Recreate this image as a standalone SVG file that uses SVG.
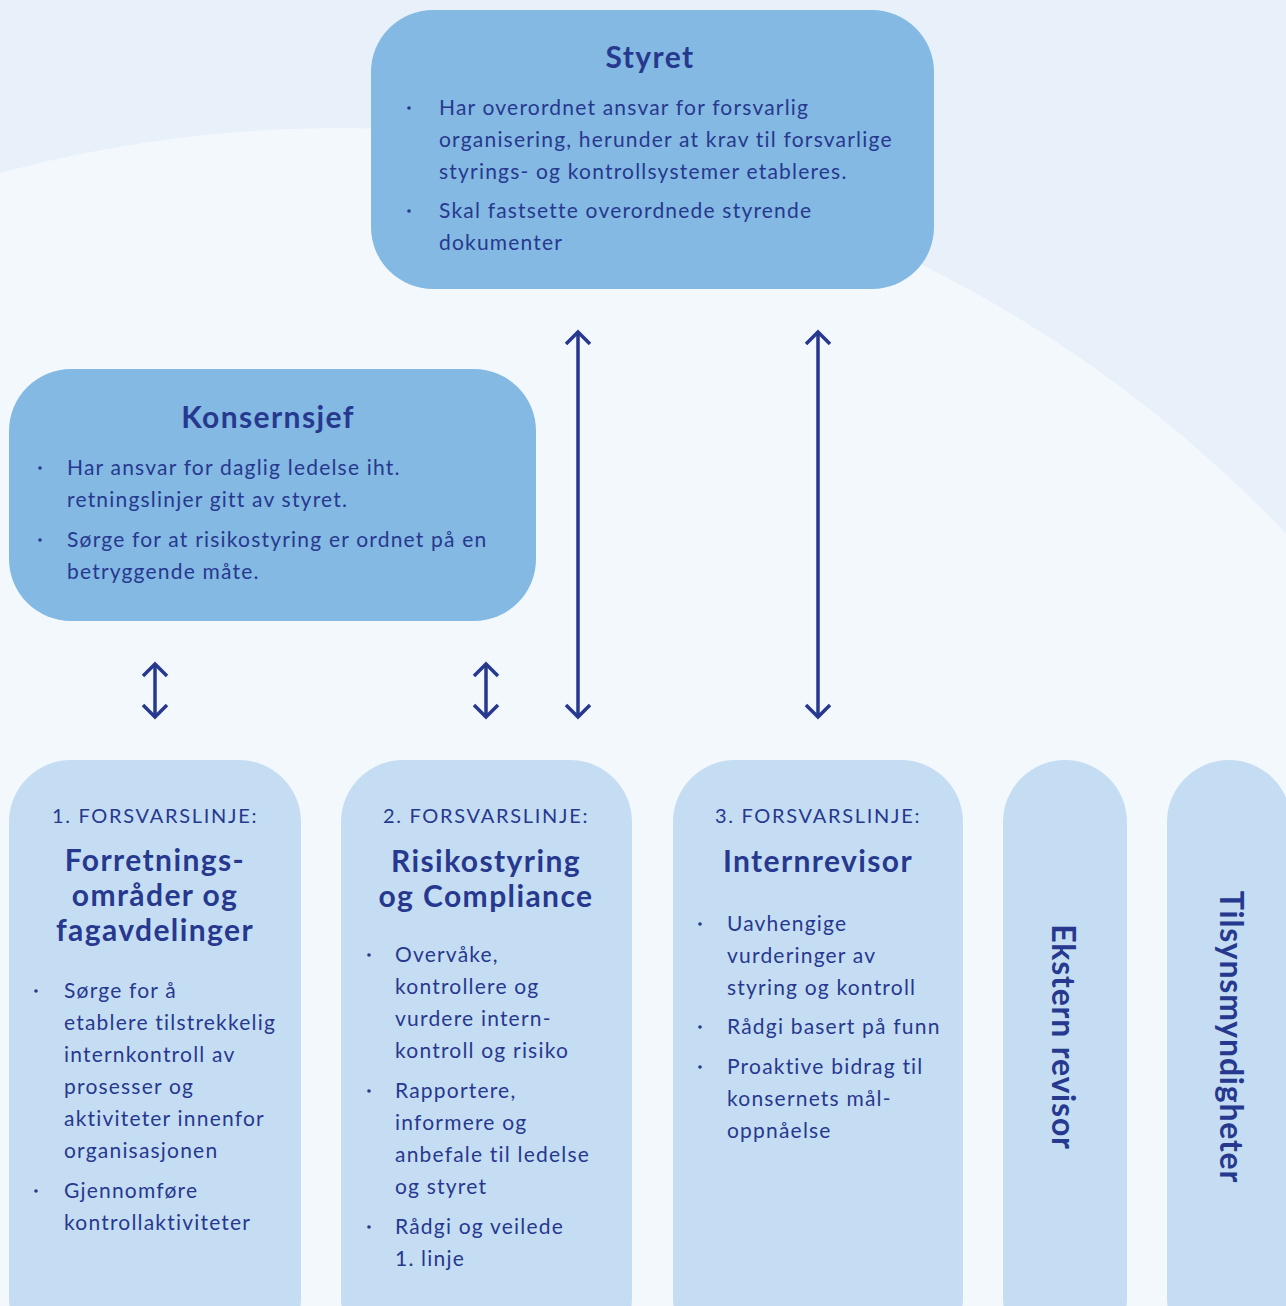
<svg xmlns="http://www.w3.org/2000/svg" width="1286" height="1306" viewBox="0 0 1286 1306">
  <style>
    .bg { fill: #e8f0fa; }
    .halo { fill: #f3f8fd; }
    .dark { fill: #83b9e2; }
    .light { fill: #c5ddf2; }
    text { font-family: Lato, "Open Sans", "Liberation Sans", sans-serif; fill: #27388f; font-variant-ligatures: none; }
    .title { font-size: 30px; font-weight: 700; letter-spacing: 1.4px; text-anchor: middle; }
    .body { font-size: 21px; letter-spacing: 1.2px; }
    .line { font-size: 20px; letter-spacing: 1.7px; text-anchor: middle; }
    .vert { font-size: 32px; font-weight: 700; letter-spacing: 0.8px; text-anchor: middle; }
    .dot { fill: #27388f; }
    .conn { stroke: #27388f; stroke-width: 3.5; fill: none; }
  </style>
  <defs>
    <marker id="chev" markerUnits="userSpaceOnUse" markerWidth="30" markerHeight="30" orient="auto-start-reverse" refX="0" refY="0" overflow="visible">
      <path d="M-12,-12 L0,0 L-12,12" fill="none" stroke="#27388f" stroke-width="3.5"/>
    </marker>
  </defs>

  <!-- background -->
  <rect class="bg" x="0" y="0" width="1286" height="1306"/>
  <circle class="halo" cx="340" cy="1434" r="1306"/>

  <!-- connectors -->
  <g id="connectors" class="conn">
    <line x1="155" y1="664" x2="155" y2="717" marker-start="url(#chev)" marker-end="url(#chev)"/>
    <line x1="486" y1="664" x2="486" y2="717" marker-start="url(#chev)" marker-end="url(#chev)"/>
    <line x1="578" y1="332" x2="578" y2="717" marker-start="url(#chev)" marker-end="url(#chev)"/>
    <line x1="818" y1="332" x2="818" y2="717" marker-start="url(#chev)" marker-end="url(#chev)"/>
  </g>

  <!-- board -->
  <g id="styret">
    <rect class="dark" x="371" y="10" width="563" height="279" rx="62"/>
    <text class="title" x="650" y="68">Styret</text>
    <circle class="dot" cx="409" cy="108" r="1.8"/>
    <circle class="dot" cx="409" cy="211" r="1.8"/>
    <text class="body" x="439" y="115">Har overordnet ansvar for forsvarlig</text>
    <text class="body" x="439" y="147">organisering, herunder at krav til forsvarlige</text>
    <text class="body" x="439" y="179">styrings- og kontrollsystemer etableres.</text>
    <text class="body" x="439" y="218">Skal fastsette overordnede styrende</text>
    <text class="body" x="439" y="250">dokumenter</text>
  </g>

  <!-- CEO -->
  <g id="konsernsjef">
    <rect class="dark" x="9" y="369" width="527" height="252" rx="62"/>
    <text class="title" x="268" y="428">Konsernsjef</text>
    <circle class="dot" cx="40" cy="468" r="1.8"/>
    <circle class="dot" cx="40" cy="540" r="1.8"/>
    <text class="body" x="67" y="475">Har ansvar for daglig ledelse iht.</text>
    <text class="body" x="67" y="507">retningslinjer gitt av styret.</text>
    <text class="body" x="67" y="547">Sørge for at risikostyring er ordnet på en</text>
    <text class="body" x="67" y="579">betryggende måte.</text>
  </g>

  <!-- first line of defence -->
  <g id="linje1">
    <rect class="light" x="9" y="760" width="292" height="600" rx="62"/>
    <text class="line" x="155" y="823">1. FORSVARSLINJE:</text>
    <text class="title" x="155" y="871">Forretnings-</text>
    <text class="title" x="155" y="906">områder og</text>
    <text class="title" x="155" y="941">fagavdelinger</text>
    <circle class="dot" cx="36" cy="991" r="1.8"/>
    <circle class="dot" cx="36" cy="1191" r="1.8"/>
    <text class="body" x="64" y="998">Sørge for å</text>
    <text class="body" x="64" y="1030">etablere tilstrekkelig</text>
    <text class="body" x="64" y="1062">internkontroll av</text>
    <text class="body" x="64" y="1094">prosesser og</text>
    <text class="body" x="64" y="1126">aktiviteter innenfor</text>
    <text class="body" x="64" y="1158">organisasjonen</text>
    <text class="body" x="64" y="1198">Gjennomføre</text>
    <text class="body" x="64" y="1230">kontrollaktiviteter</text>
  </g>

  <!-- second line of defence -->
  <g id="linje2">
    <rect class="light" x="341" y="760" width="291" height="600" rx="62"/>
    <text class="line" x="486" y="823">2. FORSVARSLINJE:</text>
    <text class="title" x="486" y="872">Risikostyring</text>
    <text class="title" x="486" y="907">og Compliance</text>
    <circle class="dot" cx="369" cy="955" r="1.8"/>
    <circle class="dot" cx="369" cy="1091" r="1.8"/>
    <circle class="dot" cx="369" cy="1227" r="1.8"/>
    <text class="body" x="395" y="962">Overvåke,</text>
    <text class="body" x="395" y="994">kontrollere og</text>
    <text class="body" x="395" y="1026">vurdere intern-</text>
    <text class="body" x="395" y="1058">kontroll og risiko</text>
    <text class="body" x="395" y="1098">Rapportere,</text>
    <text class="body" x="395" y="1130">informere og</text>
    <text class="body" x="395" y="1162">anbefale til ledelse</text>
    <text class="body" x="395" y="1194">og styret</text>
    <text class="body" x="395" y="1234">Rådgi og veilede</text>
    <text class="body" x="395" y="1266">1. linje</text>
  </g>

  <!-- third line of defence -->
  <g id="linje3">
    <rect class="light" x="673" y="760" width="290" height="600" rx="62"/>
    <text class="line" x="818" y="823">3. FORSVARSLINJE:</text>
    <text class="title" x="818" y="872">Internrevisor</text>
    <circle class="dot" cx="700" cy="924" r="1.8"/>
    <circle class="dot" cx="700" cy="1027" r="1.8"/>
    <circle class="dot" cx="700" cy="1067" r="1.8"/>
    <text class="body" x="727" y="931">Uavhengige</text>
    <text class="body" x="727" y="963">vurderinger av</text>
    <text class="body" x="727" y="995">styring og kontroll</text>
    <text class="body" x="727" y="1034">Rådgi basert på funn</text>
    <text class="body" x="727" y="1074">Proaktive bidrag til</text>
    <text class="body" x="727" y="1106">konsernets mål-</text>
    <text class="body" x="727" y="1138">oppnåelse</text>
  </g>

  <!-- external auditor -->
  <g id="ekstern-revisor">
    <rect class="light" x="1003" y="760" width="124" height="600" rx="62"/>
    <text class="vert" x="1052" y="1037" transform="rotate(90 1052 1037)">Ekstern revisor</text>
  </g>

  <!-- supervisory authorities -->
  <g id="tilsynsmyndigheter">
    <rect class="light" x="1167" y="760" width="124" height="600" rx="62"/>
    <text class="vert" x="1220" y="1037" transform="rotate(90 1220 1037)">Tilsynsmyndigheter</text>
  </g>
</svg>
